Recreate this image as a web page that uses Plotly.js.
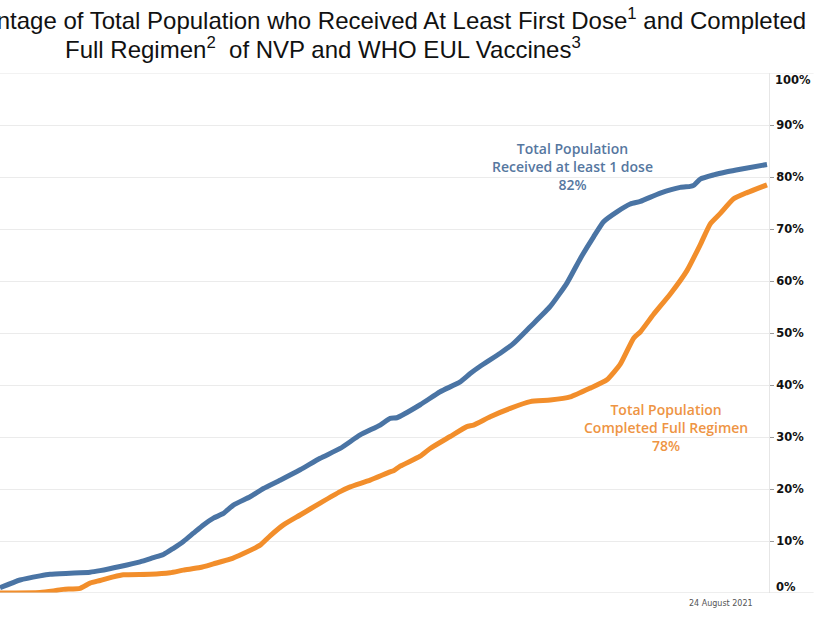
<!DOCTYPE html>
<html>
<head>
<meta charset="utf-8">
<script src="https://cdn.plot.ly/plotly-3.0.1.min.js"></script>
<style>html,body{margin:0;padding:0;background:#fff;}#chart{width:830px;height:622px;}</style>
</head>
<body>
<div id="chart"></div>
<script>
// Day index (days before 24 August 2021 end point = day 230)
var firstDoseDays = [0,6,12,15,21,27,30,36,42,46,49,52,55,58,61,64,67,70,75,79,84,90,96,102,108,114,117,119,126,132,138,141,144,150,154,159,165,170,174,178,181,185,189,192,198,204,207,208,210,214,218,222,230];
var firstDoseValues = [1.0,2.5,3.3,3.6,3.8,4.0,4.3,5.1,6.0,6.8,7.4,8.6,9.9,11.5,13.1,14.4,15.3,16.9,18.5,20.1,21.7,23.7,25.9,27.8,30.4,32.3,33.6,33.7,36.2,38.7,40.6,42.2,43.6,46.1,48.0,51.2,55.1,59.6,64.3,68.5,71.4,73.3,74.8,75.3,76.9,78.0,78.2,78.4,79.6,80.4,81.0,81.5,82.4];

var fullRegimenDays = [0,12,16,19,24,27,30,34,37,45,51,55,60,64,69,73,78,81,85,90,96,102,105,111,117,118,120,126,129,135,140,142,147,153,159,165,171,177,182,186,190,192,196,201,206,210,213,216,220,224,230];
var fullRegimenValues = [0,0.1,0.4,0.7,0.9,1.9,2.4,3.1,3.5,3.6,3.9,4.4,4.9,5.6,6.5,7.6,9.2,11.0,13.1,15.0,17.3,19.5,20.4,21.7,23.3,23.5,24.4,26.3,27.8,30.1,32.0,32.3,33.9,35.5,36.8,37.1,37.7,39.4,41.0,44.0,49.0,50.2,53.6,57.5,62.0,67.0,71.0,73.0,75.8,77.0,78.5];

var tickValues = [10,20,30,40,50,60,70,80,90];
var tickLabels = ['10%','20%','30%','40%','50%','60%','70%','80%','90%'];

var blue = '#4a74a4';
var orange = '#f28e2b';

var traces = [
  {x: fullRegimenDays, y: fullRegimenValues, type: 'scatter', mode: 'lines',
   line: {color: orange, width: 5, shape: 'spline', smoothing: 0.5}, hoverinfo: 'skip'},
  {x: firstDoseDays, y: firstDoseValues, type: 'scatter', mode: 'lines',
   line: {color: blue, width: 5, shape: 'spline', smoothing: 0.5}, hoverinfo: 'skip'}
];

var layout = {
  width: 830, height: 622,
  margin: {l: 0, r: 61, t: 73, b: 29, pad: 0},
  paper_bgcolor: '#ffffff', plot_bgcolor: '#ffffff',
  showlegend: false,
  xaxis: {range: [0, 230.6], showgrid: false, zeroline: false, showticklabels: false, ticks: '', showline: false},
  yaxis: {
    side: 'right', range: [0, 100], tickvals: tickValues, ticktext: tickLabels,
    ticks: 'outside', ticklen: 4, tickcolor: '#999999', tickwidth: 1,
    showgrid: true, gridcolor: '#ebebeb', gridwidth: 1, zeroline: false,
    showline: true, linecolor: '#e6e6e6', linewidth: 1,
    tickfont: {family: 'DejaVu Sans', size: 11.5, color: '#111111', weight: 'bold'}
  },
  shapes: [
    {type: 'line', xref: 'paper', yref: 'y', x0: 0, x1: 1.058, y0: 0, y1: 0, line: {color: '#dcdcdc', width: 1}},
    {type: 'line', xref: 'paper', yref: 'y', x0: 0, x1: 1.058, y0: 100, y1: 100, line: {color: '#e6e6e6', width: 1}}
  ],
  annotations: [
    {xref: 'paper', yref: 'paper', x: 1.0507, y: 1.103, xanchor: 'right', yanchor: 'middle', showarrow: false,
     text: 'Percentage of Total Population who Received At Least First Dose<sup>1</sup> and Completed',
     font: {family: 'Liberation Sans', size: 24, color: '#111111'}},
    {xref: 'paper', yref: 'paper', x: 0.0819, y: 1.049, xanchor: 'left', yanchor: 'middle', showarrow: false,
     text: 'Full Regimen<sup>2</sup>&nbsp; of NVP and WHO EUL Vaccines<sup>3</sup>',
     font: {family: 'Liberation Sans', size: 24, color: '#111111'}},
    {xref: 'paper', yref: 'paper', x: 0.745, y: 0.821, xanchor: 'center', yanchor: 'middle', showarrow: false, align: 'center',
     text: 'Total Population<br>Received at least 1 dose<br>82%',
     font: {family: 'Open Sans', size: 14, color: '#56779f', weight: 600}},
    {xref: 'paper', yref: 'paper', x: 0.866, y: 0.319, xanchor: 'center', yanchor: 'middle', showarrow: false, align: 'center',
     text: 'Total Population<br>Completed Full Regimen<br>78%',
     font: {family: 'Open Sans', size: 14, color: '#ee9443', weight: 600}},
    {xref: 'paper', yref: 'paper', x: 1.0065, y: 0.0115, xanchor: 'left', yanchor: 'middle', showarrow: false,
     text: '0%', font: {family: 'DejaVu Sans', size: 11.5, color: '#111111', weight: 'bold'}},
    {xref: 'paper', yref: 'paper', x: 1.0052, y: 0.9865, xanchor: 'left', yanchor: 'middle', showarrow: false,
     text: '100%', font: {family: 'DejaVu Sans', size: 11.5, color: '#111111', weight: 'bold'}},
    {xref: 'paper', yref: 'paper', x: 0.9376, y: -0.021, xanchor: 'center', yanchor: 'middle', showarrow: false,
     text: '24 August 2021', font: {family: 'DejaVu Sans', size: 8, color: '#555555'}}
  ]
};

Plotly.newPlot('chart', traces, layout, {staticPlot: true, displayModeBar: false});
</script>
</body>
</html>
